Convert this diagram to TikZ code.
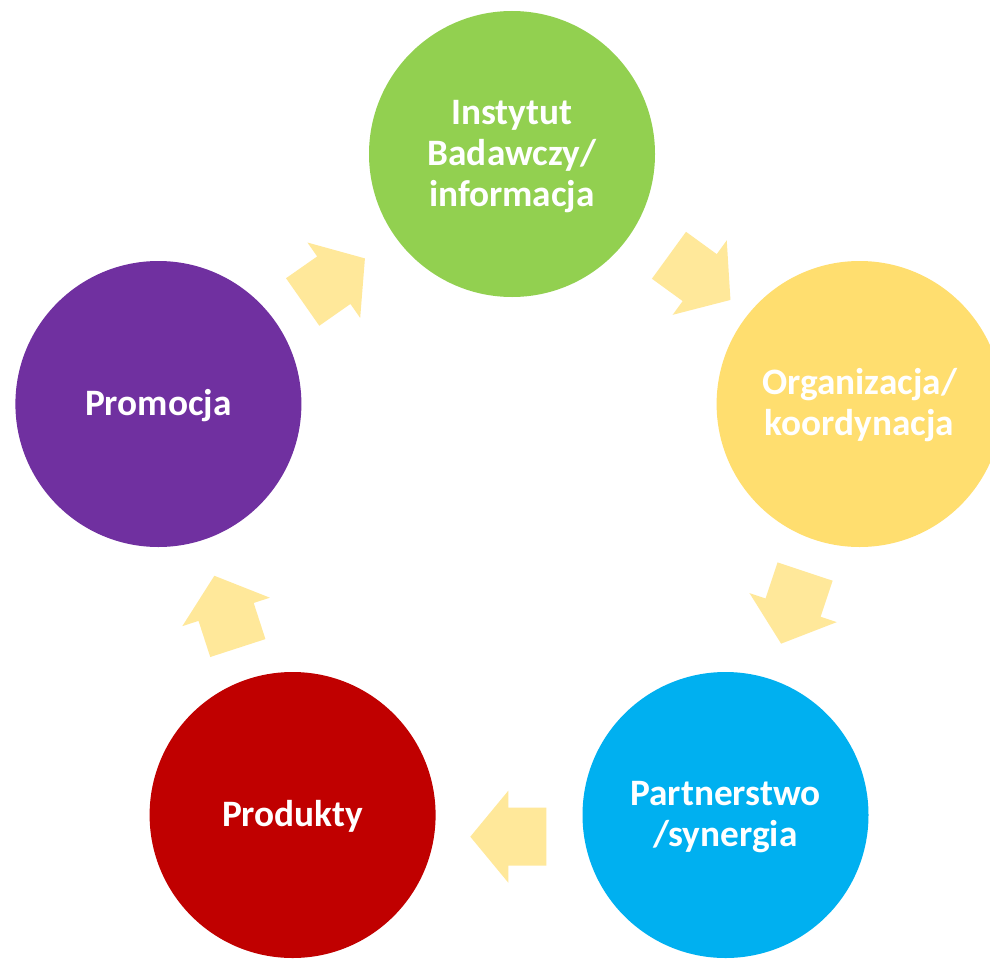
\documentclass[tikz,border=0pt]{standalone}
\usepackage{fontspec}
\setmainfont{Carlito}
\definecolor{cgreen}{HTML}{92D050}
\definecolor{cyellow}{HTML}{FFDE6F}
\definecolor{cblue}{HTML}{00B0F0}
\definecolor{cred}{HTML}{C00000}
\definecolor{cpurple}{HTML}{7030A0}
\definecolor{carrow}{HTML}{FFE89A}
\newcommand{\stagetext}[1]{\raisebox{-3pt}[\height][\depth]{\begin{tabular}{@{}c@{}}#1\end{tabular}}}
\begin{document}
\begin{tikzpicture}[x=1pt,y=1pt,
  stage/.style={circle, minimum size=286pt, inner sep=0pt, draw=none, text=white,
    font=\fontsize{37.3}{41}\selectfont\bfseries},
  blockarrow/.style={fill=carrow, draw=none}]
\clip (0,0) rectangle (990,-958);
\fill[white] (0,0) rectangle (990,-958);
\node[stage, fill=cgreen]  (inst) at (512,-154)   {\stagetext{Instytut\\Badawczy/\\informacja}};
\node[stage, fill=cyellow] (org)  at (859.6,-404) {\stagetext{Organizacja/\\koordynacja}};
\node[stage, fill=cblue]   (part) at (725.5,-815) {\stagetext{Partnerstwo\\/synergia}};
\node[stage, fill=cred]    (prod) at (292.6,-815) {\stagetext{Produkty}};
\node[stage, fill=cpurple] (prom) at (158.4,-404) {\stagetext{Promocja}};
\coordinate (a1) at (699.7,-277.6);
\coordinate (a2) at (793.1,-607.6);
\coordinate (a3) at (508.3,-836.7);
\coordinate (a4) at (226.1,-611.9);
\coordinate (a5) at (333.8,-280.2);
\foreach \c/\a in {a1/-36, a2/-108.4, a3/180, a4/108, a5/35}{
  \path[blockarrow, shift={(\c)}, rotate=\a]
    (-38,29) -- (0,29) -- (0,46) -- (38,0) -- (0,-46) -- (0,-29) -- (-38,-29) -- cycle;
}
\end{tikzpicture}
\end{document}
